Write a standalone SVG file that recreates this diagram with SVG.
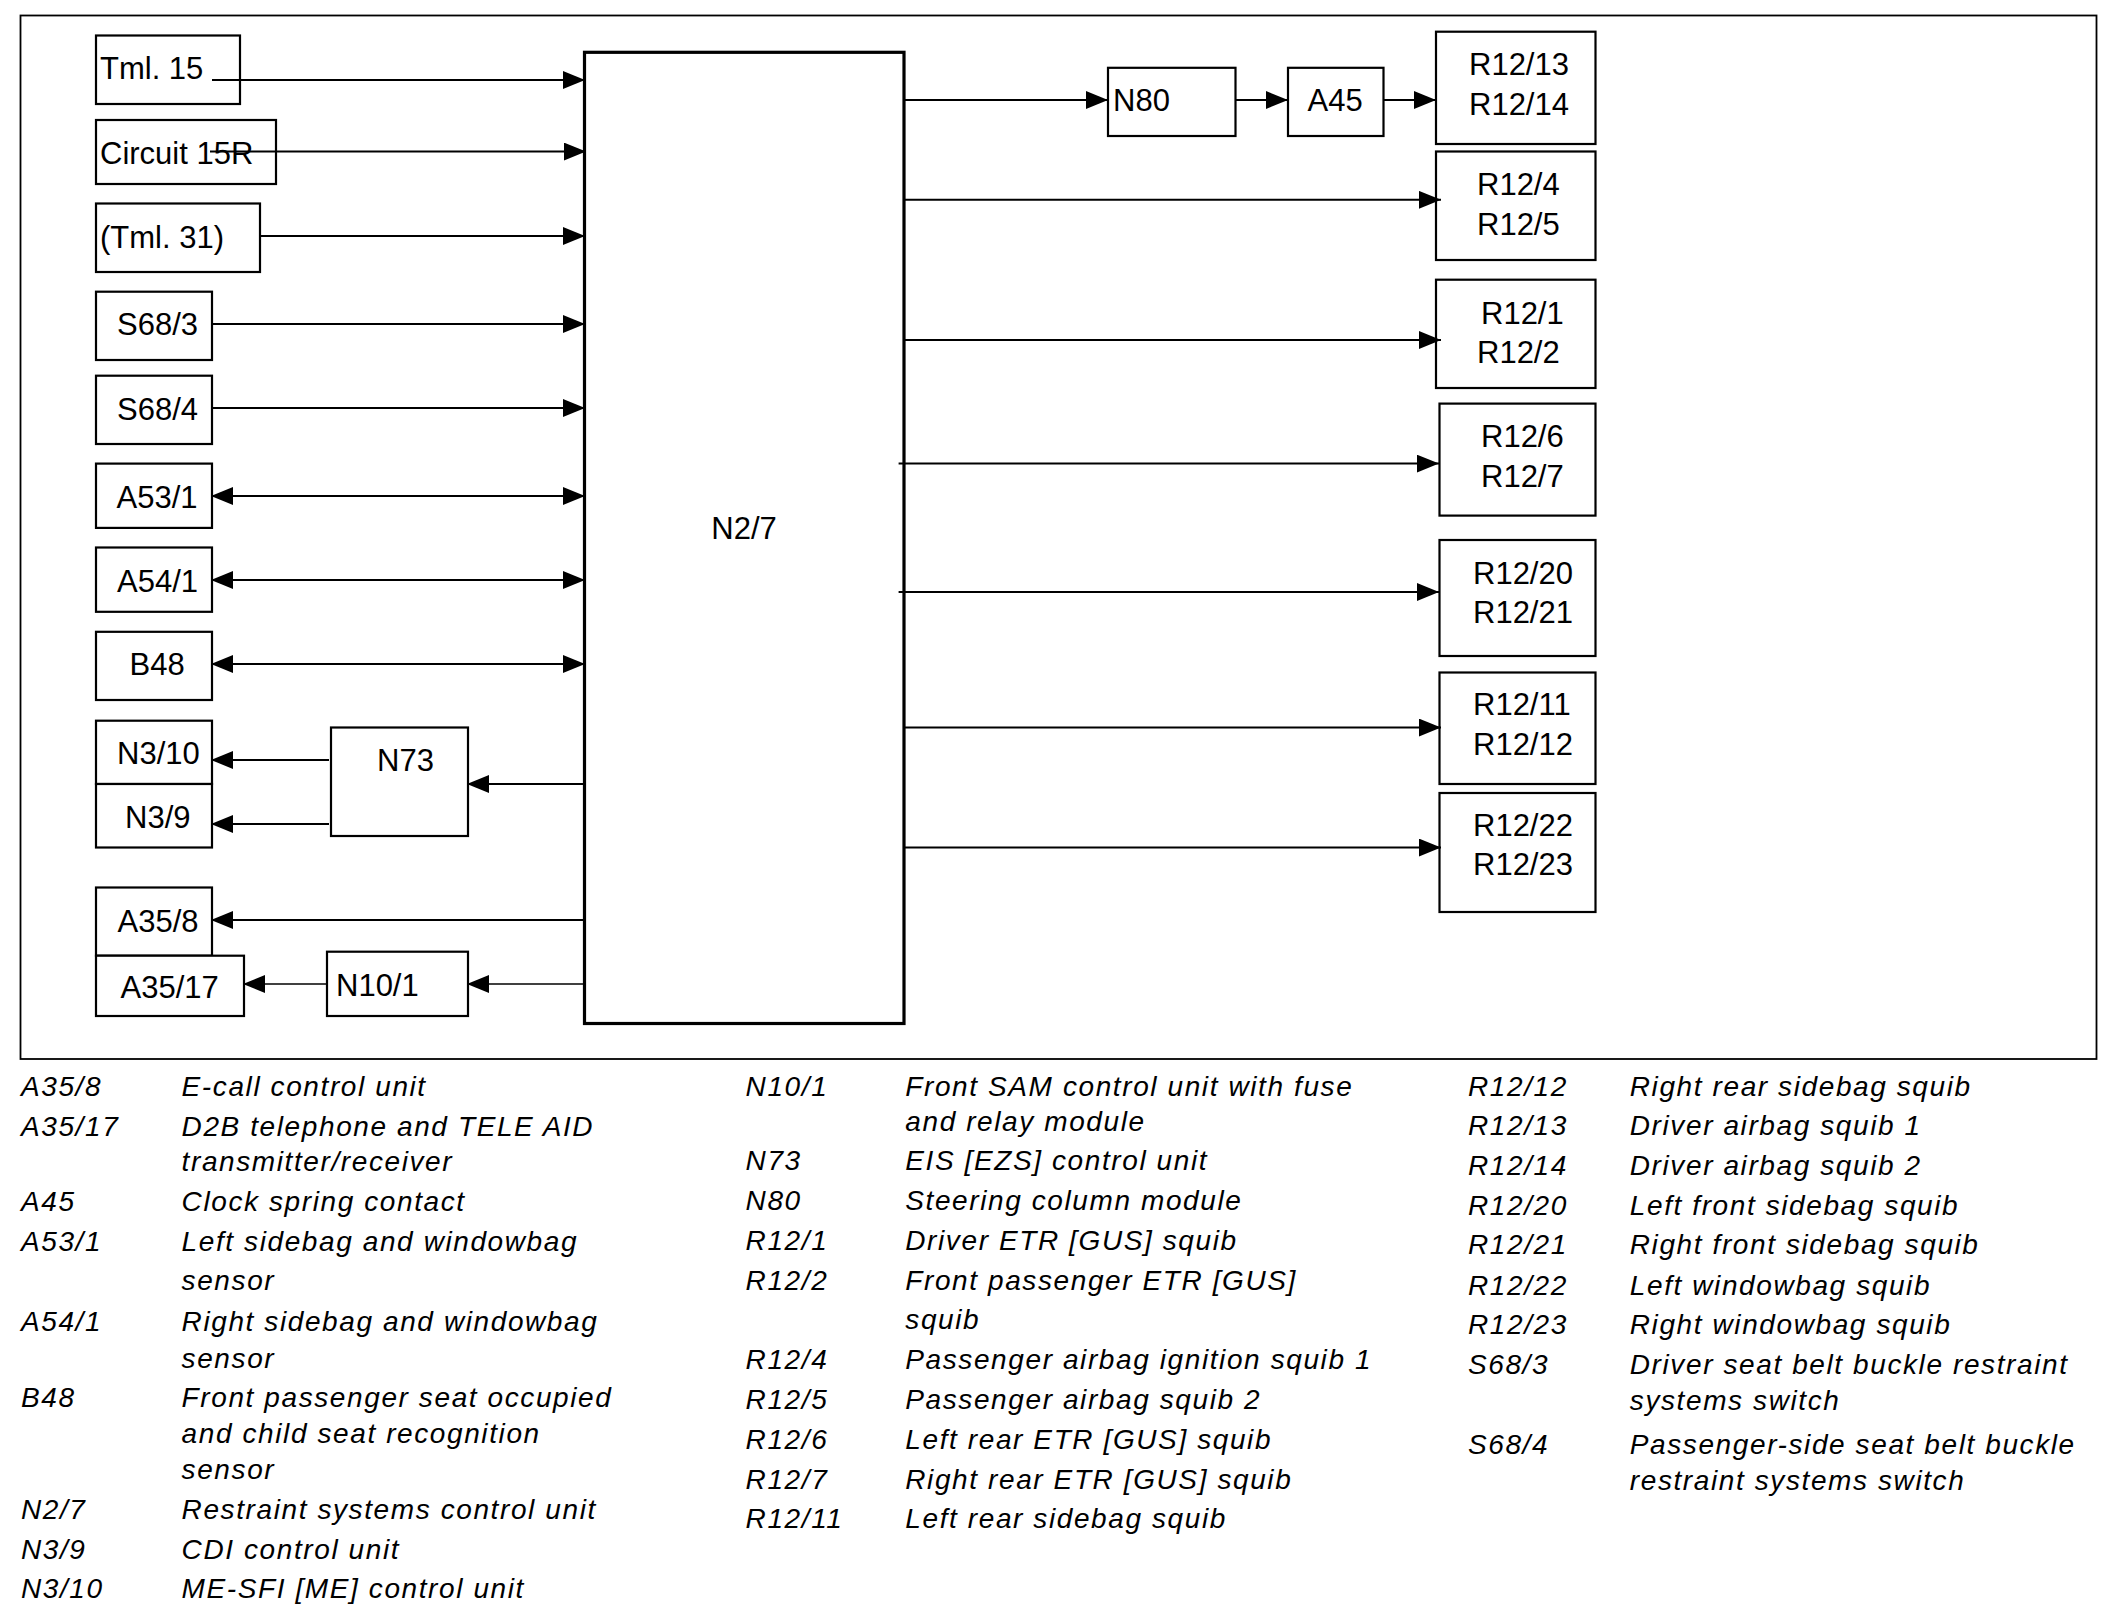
<svg xmlns="http://www.w3.org/2000/svg" width="2124" height="1624" viewBox="0 0 2124 1624">
<style>
.bg{fill:#fff}
.frame{fill:none;stroke:#000;stroke-width:1.8}
.box{fill:#fff;stroke:#000;stroke-width:2.2}
.main{fill:#fff;stroke:#000;stroke-width:3.2}
.lbl{font-family:"Liberation Sans",Arial,sans-serif;font-size:31px;fill:#000}
.ln{stroke:#000;stroke-width:2;fill:none}
.thin{stroke:#000;stroke-width:1.4;fill:none}
.lg{font-family:"Liberation Sans",Arial,sans-serif;font-size:28px;font-style:italic;letter-spacing:1.6px;fill:#000}
</style>
<defs>
<marker id="ah" markerUnits="userSpaceOnUse" markerWidth="22" markerHeight="18" viewBox="0 0 21 17" refX="21" refY="8.5" orient="auto-start-reverse">
<path d="M0,0 L21,8.5 L0,17 z" fill="#000"/>
</marker>
</defs>
<rect class="bg" x="0" y="0" width="2124" height="1624"/>
<rect class="frame" x="20.5" y="15.5" width="2076" height="1043.5"/>

<g id="n2_7"><rect class="main" x="584.5" y="52.3" width="319.5" height="971.2"/><text class="lbl" x="744" y="539" text-anchor="middle">N2/7</text></g>

<g id="tml15"><rect class="box" x="96" y="35.5" width="144" height="68.5"/><text class="lbl" x="100" y="79">Tml. 15</text></g>
<g id="circuit15r"><rect class="box" x="96" y="120" width="180" height="64"/><text class="lbl" x="100" y="163.5">Circuit 15R</text></g>
<g id="tml31"><rect class="box" x="96" y="203.5" width="164" height="68.5"/><text class="lbl" x="100" y="248">(Tml. 31)</text></g>
<g id="s68_3"><rect class="box" x="96" y="291.7" width="116" height="68.3"/><text class="lbl" x="117" y="335">S68/3</text></g>
<g id="s68_4"><rect class="box" x="96" y="375.7" width="116" height="68.3"/><text class="lbl" x="117" y="419.5">S68/4</text></g>
<g id="a53_1"><rect class="box" x="96" y="463.6" width="116" height="64.3"/><text class="lbl" x="116.5" y="508">A53/1</text></g>
<g id="a54_1"><rect class="box" x="96" y="547.5" width="116" height="64.3"/><text class="lbl" x="117" y="592">A54/1</text></g>
<g id="b48"><rect class="box" x="96" y="631.8" width="116" height="68.2"/><text class="lbl" x="129.5" y="675">B48</text></g>
<g id="n3_10"><rect class="box" x="96" y="720.7" width="116" height="63.3"/><text class="lbl" x="117" y="764">N3/10</text></g>
<g id="n3_9"><rect class="box" x="96" y="784" width="116" height="63.5"/><text class="lbl" x="125" y="828">N3/9</text></g>
<g id="n73"><rect class="box" x="331" y="727.5" width="137" height="108.5"/><text class="lbl" x="377" y="771">N73</text></g>
<g id="a35_8"><rect class="box" x="96" y="887.5" width="116" height="68.2"/><text class="lbl" x="117.5" y="932">A35/8</text></g>
<g id="a35_17"><rect class="box" x="96" y="955.7" width="148" height="60.3"/><text class="lbl" x="120.5" y="998">A35/17</text></g>
<g id="n10_1"><rect class="box" x="327" y="951.7" width="141" height="64.3"/><text class="lbl" x="336" y="995.6">N10/1</text></g>

<g id="n80"><rect class="box" x="1108" y="67.8" width="127.5" height="68.2"/><text class="lbl" x="1113" y="111">N80</text></g>
<g id="a45"><rect class="box" x="1288" y="67.8" width="95.5" height="68.2"/><text class="lbl" x="1307.6" y="111">A45</text></g>
<g id="r12_13_14"><rect class="box" x="1436" y="31.7" width="159.5" height="112.3"/><text class="lbl" x="1469" y="75">R12/13</text><text class="lbl" x="1469" y="114.7">R12/14</text></g>
<g id="r12_4_5"><rect class="box" x="1436" y="151.5" width="159.5" height="108.5"/><text class="lbl" x="1477" y="195">R12/4</text><text class="lbl" x="1477" y="235">R12/5</text></g>
<g id="r12_1_2"><rect class="box" x="1436" y="279.7" width="159.5" height="108.3"/><text class="lbl" x="1481" y="323.7">R12/1</text><text class="lbl" x="1477" y="363">R12/2</text></g>
<g id="r12_6_7"><rect class="box" x="1439.5" y="403.6" width="156" height="112"/><text class="lbl" x="1481" y="447">R12/6</text><text class="lbl" x="1481" y="487">R12/7</text></g>
<g id="r12_20_21"><rect class="box" x="1439.5" y="540" width="156" height="116"/><text class="lbl" x="1473" y="584">R12/20</text><text class="lbl" x="1473" y="623">R12/21</text></g>
<g id="r12_11_12"><rect class="box" x="1439.5" y="672.5" width="156" height="111.5"/><text class="lbl" x="1473" y="715">R12/11</text><text class="lbl" x="1473" y="755">R12/12</text></g>
<g id="r12_22_23"><rect class="box" x="1439.5" y="793" width="156" height="119"/><text class="lbl" x="1473" y="835.7">R12/22</text><text class="lbl" x="1473" y="875">R12/23</text></g>

<g id="connectors">
<line class="ln" x1="212" y1="80" x2="585" y2="80" marker-end="url(#ah)"/>
<line class="ln" x1="210" y1="151.5" x2="586" y2="151.5" marker-end="url(#ah)"/>
<line class="ln" x1="260" y1="236" x2="585" y2="236" marker-end="url(#ah)"/>
<line class="ln" x1="212" y1="324" x2="585" y2="324" marker-end="url(#ah)"/>
<line class="ln" x1="212" y1="408" x2="585" y2="408" marker-end="url(#ah)"/>
<line class="ln" x1="211" y1="496" x2="585" y2="496" marker-start="url(#ah)" marker-end="url(#ah)"/>
<line class="ln" x1="211" y1="580" x2="585" y2="580" marker-start="url(#ah)" marker-end="url(#ah)"/>
<line class="ln" x1="211" y1="664" x2="585" y2="664" marker-start="url(#ah)" marker-end="url(#ah)"/>
<line class="ln" x1="585" y1="784" x2="467" y2="784" marker-end="url(#ah)"/>
<line class="ln" x1="329" y1="760" x2="211" y2="760" marker-end="url(#ah)"/>
<line class="ln" x1="329" y1="824" x2="211" y2="824" marker-end="url(#ah)"/>
<line class="ln" x1="585" y1="920" x2="211" y2="920" marker-end="url(#ah)"/>
<line class="thin" x1="585" y1="984" x2="467" y2="984" marker-end="url(#ah)"/>
<line class="thin" x1="327" y1="984" x2="243" y2="984" marker-end="url(#ah)"/>
<line class="ln" x1="904" y1="100" x2="1108" y2="100" marker-end="url(#ah)"/>
<line class="ln" x1="1235.5" y1="100" x2="1288" y2="100" marker-end="url(#ah)"/>
<line class="ln" x1="1383.5" y1="100" x2="1436" y2="100" marker-end="url(#ah)"/>
<line class="ln" x1="904" y1="199.8" x2="1441" y2="199.8" marker-end="url(#ah)"/>
<line class="ln" x1="904" y1="340" x2="1441" y2="340" marker-end="url(#ah)"/>
<line class="ln" x1="898.6" y1="463.6" x2="1439" y2="463.6" marker-end="url(#ah)"/>
<line class="ln" x1="898.6" y1="592" x2="1439" y2="592" marker-end="url(#ah)"/>
<line class="ln" x1="904" y1="727.5" x2="1441" y2="727.5" marker-end="url(#ah)"/>
<line class="ln" x1="904" y1="847.5" x2="1441" y2="847.5" marker-end="url(#ah)"/>
</g>

<g id="legend">
<text class="lg" x="21" y="1096">A35/8</text><text class="lg" x="181.6" y="1096">E-call control unit</text>
<text class="lg" x="21" y="1135.5">A35/17</text><text class="lg" x="181.6" y="1135.5">D2B telephone and TELE AID</text>
<text class="lg" x="181.6" y="1170.5">transmitter/receiver</text>
<text class="lg" x="21" y="1210.5">A45</text><text class="lg" x="181.6" y="1210.5">Clock spring contact</text>
<text class="lg" x="21" y="1250.5">A53/1</text><text class="lg" x="181.6" y="1250.5">Left sidebag and windowbag</text>
<text class="lg" x="181.6" y="1290">sensor</text>
<text class="lg" x="21" y="1330.5">A54/1</text><text class="lg" x="181.6" y="1330.5">Right sidebag and windowbag</text>
<text class="lg" x="181.6" y="1368">sensor</text>
<text class="lg" x="21" y="1406.5">B48</text><text class="lg" x="181.6" y="1406.5">Front passenger seat occupied</text>
<text class="lg" x="181.6" y="1442.5">and child seat recognition</text>
<text class="lg" x="181.6" y="1478.5">sensor</text>
<text class="lg" x="21" y="1519">N2/7</text><text class="lg" x="181.6" y="1519">Restraint systems control unit</text>
<text class="lg" x="21" y="1558.5">N3/9</text><text class="lg" x="181.6" y="1558.5">CDI control unit</text>
<text class="lg" x="21" y="1598">N3/10</text><text class="lg" x="181.6" y="1598">ME-SFI [ME] control unit</text>

<text class="lg" x="745.6" y="1096">N10/1</text><text class="lg" x="905.3" y="1096">Front SAM control unit with fuse</text>
<text class="lg" x="905.3" y="1130.5">and relay module</text>
<text class="lg" x="745.6" y="1170">N73</text><text class="lg" x="905.3" y="1170">EIS [EZS] control unit</text>
<text class="lg" x="745.6" y="1209.5">N80</text><text class="lg" x="905.3" y="1209.5">Steering column module</text>
<text class="lg" x="745.6" y="1250">R12/1</text><text class="lg" x="905.3" y="1250">Driver ETR [GUS] squib</text>
<text class="lg" x="745.6" y="1289.5">R12/2</text><text class="lg" x="905.3" y="1289.5">Front passenger ETR [GUS]</text>
<text class="lg" x="905.3" y="1328.5">squib</text>
<text class="lg" x="745.6" y="1368.5">R12/4</text><text class="lg" x="905.3" y="1368.5">Passenger airbag ignition squib 1</text>
<text class="lg" x="745.6" y="1408.5">R12/5</text><text class="lg" x="905.3" y="1408.5">Passenger airbag squib 2</text>
<text class="lg" x="745.6" y="1449">R12/6</text><text class="lg" x="905.3" y="1449">Left rear ETR [GUS] squib</text>
<text class="lg" x="745.6" y="1488.5">R12/7</text><text class="lg" x="905.3" y="1488.5">Right rear ETR [GUS] squib</text>
<text class="lg" x="745.6" y="1528">R12/11</text><text class="lg" x="905.3" y="1528">Left rear sidebag squib</text>

<text class="lg" x="1468" y="1096">R12/12</text><text class="lg" x="1629.8" y="1096">Right rear sidebag squib</text>
<text class="lg" x="1468" y="1135">R12/13</text><text class="lg" x="1629.8" y="1135">Driver airbag squib 1</text>
<text class="lg" x="1468" y="1174.5">R12/14</text><text class="lg" x="1629.8" y="1174.5">Driver airbag squib 2</text>
<text class="lg" x="1468" y="1214.5">R12/20</text><text class="lg" x="1629.8" y="1214.5">Left front sidebag squib</text>
<text class="lg" x="1468" y="1254">R12/21</text><text class="lg" x="1629.8" y="1254">Right front sidebag squib</text>
<text class="lg" x="1468" y="1294.5">R12/22</text><text class="lg" x="1629.8" y="1294.5">Left windowbag squib</text>
<text class="lg" x="1468" y="1333.5">R12/23</text><text class="lg" x="1629.8" y="1333.5">Right windowbag squib</text>
<text class="lg" x="1468" y="1373.5">S68/3</text><text class="lg" x="1629.8" y="1373.5">Driver seat belt buckle restraint</text>
<text class="lg" x="1629.8" y="1409.5">systems switch</text>
<text class="lg" x="1468" y="1453.5">S68/4</text><text class="lg" x="1629.8" y="1453.5">Passenger-side seat belt buckle</text>
<text class="lg" x="1629.8" y="1489.5">restraint systems switch</text>
</g>
</svg>
